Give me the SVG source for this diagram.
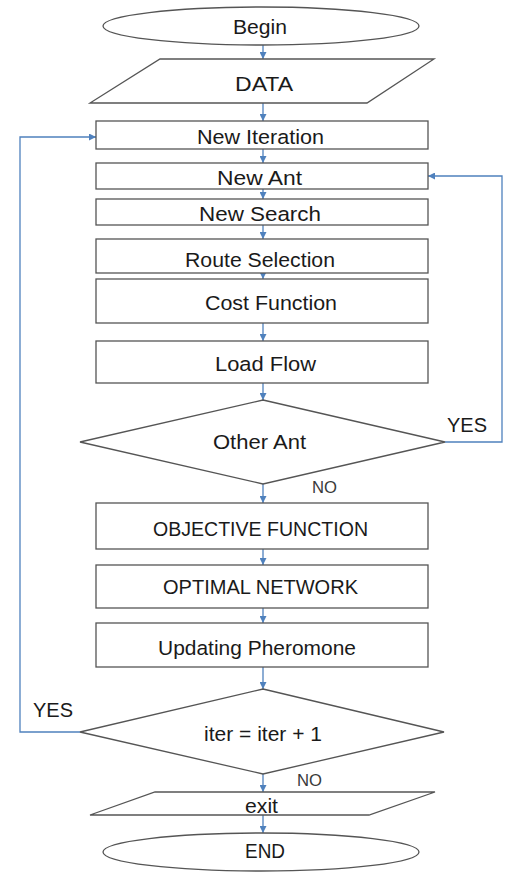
<svg xmlns="http://www.w3.org/2000/svg" width="506" height="873" viewBox="0 0 506 873">
  <style>
    .shape { fill: #ffffff; stroke: #555555; stroke-width: 1.3; }
    .lbl { font-family: "Liberation Sans", Arial, sans-serif; font-size: 20.5px; fill: #1a1a1a; text-anchor: middle; }
    .tag { font-family: "Liberation Sans", Arial, sans-serif; font-size: 20.5px; fill: #1a1a1a; }
    .no { font-family: "Liberation Sans", Arial, sans-serif; font-size: 16px; fill: #3a3a3a; }
    .conn { fill: none; stroke: #4f81bd; stroke-width: 1.3; }
  </style>
  <defs>
    <marker id="arrow" viewBox="0 0 8 8" refX="8" refY="4" markerWidth="7" markerHeight="7" markerUnits="userSpaceOnUse" orient="auto">
      <path d="M0,0 L8,4 L0,8 Z" fill="#4f81bd"/>
    </marker>
  </defs>
  <rect width="506" height="873" fill="#ffffff"/>

  <!-- connectors -->
  <g id="connectors">
    <path class="conn" d="M263,45 V59" marker-end="url(#arrow)"/>
    <path class="conn" d="M263,103 V121" marker-end="url(#arrow)"/>
    <path class="conn" d="M263,149 V163" marker-end="url(#arrow)"/>
    <path class="conn" d="M263,189 V199" marker-end="url(#arrow)"/>
    <path class="conn" d="M263,225 V239" marker-end="url(#arrow)"/>
    <path class="conn" d="M263,269 V279" marker-end="url(#arrow)"/>
    <path class="conn" d="M263,323 V341" marker-end="url(#arrow)"/>
    <path class="conn" d="M263,383 V400" marker-end="url(#arrow)"/>
    <path class="conn" d="M263,484 V503" marker-end="url(#arrow)"/>
    <path class="conn" d="M263,549 V565" marker-end="url(#arrow)"/>
    <path class="conn" d="M263,608 V623" marker-end="url(#arrow)"/>
    <path class="conn" d="M263,667 V689" marker-end="url(#arrow)"/>
    <path class="conn" d="M263,774 V792" marker-end="url(#arrow)"/>
    <path class="conn" d="M263,815 V833" marker-end="url(#arrow)"/>
    <!-- loop back to New Ant -->
    <path class="conn" d="M445,442 H502 V176 H428" marker-end="url(#arrow)"/>
    <!-- loop back to New Iteration -->
    <path class="conn" d="M80,732 H20 V137 H96" marker-end="url(#arrow)"/>
  </g>

  <g id="begin">
    <ellipse class="shape" cx="261" cy="26" rx="158" ry="19"/>
    <text class="lbl" x="260" y="34" textLength="54" lengthAdjust="spacingAndGlyphs">Begin</text>
  </g>
  <g id="data">
    <polygon class="shape" points="160,59 434,59 367,103 90,103"/>
    <text class="lbl" x="264" y="91" textLength="58" lengthAdjust="spacingAndGlyphs">DATA</text>
  </g>
  <g id="new-iteration">
    <rect class="shape" x="96" y="121" width="332" height="28"/>
    <text class="lbl" x="260.5" y="144" textLength="127" lengthAdjust="spacingAndGlyphs">New Iteration</text>
  </g>
  <g id="new-ant">
    <rect class="shape" x="96" y="163" width="332" height="26"/>
    <text class="lbl" x="259.5" y="185" textLength="85" lengthAdjust="spacingAndGlyphs">New Ant</text>
  </g>
  <g id="new-search">
    <rect class="shape" x="96" y="199" width="332" height="26"/>
    <text class="lbl" x="260" y="221" textLength="122" lengthAdjust="spacingAndGlyphs">New Search</text>
  </g>
  <g id="route-selection">
    <rect class="shape" x="96" y="239" width="332" height="34"/>
    <text class="lbl" x="260" y="266.5" textLength="150" lengthAdjust="spacingAndGlyphs">Route Selection</text>
  </g>
  <g id="cost-function">
    <rect class="shape" x="96" y="279" width="332" height="44"/>
    <text class="lbl" x="271" y="310" textLength="132" lengthAdjust="spacingAndGlyphs">Cost Function</text>
  </g>
  <g id="load-flow">
    <rect class="shape" x="96" y="341" width="332" height="42"/>
    <text class="lbl" x="265.5" y="371" textLength="101" lengthAdjust="spacingAndGlyphs">Load Flow</text>
  </g>
  <g id="other-ant">
    <polygon class="shape" points="263,400 445,442 263,484 80,442"/>
    <text class="lbl" x="259.5" y="449" textLength="93" lengthAdjust="spacingAndGlyphs">Other Ant</text>
    <text class="tag" x="447" y="431.5" textLength="40" lengthAdjust="spacingAndGlyphs">YES</text>
    <text class="no" x="312" y="492.5" textLength="25" lengthAdjust="spacingAndGlyphs">NO</text>
  </g>
  <g id="objective-function">
    <rect class="shape" x="96" y="503" width="332" height="46"/>
    <text class="lbl" x="260.5" y="536" textLength="215" lengthAdjust="spacingAndGlyphs">OBJECTIVE FUNCTION</text>
  </g>
  <g id="optimal-network">
    <rect class="shape" x="96" y="565" width="332" height="43"/>
    <text class="lbl" x="260.5" y="594" textLength="195" lengthAdjust="spacingAndGlyphs">OPTIMAL NETWORK</text>
  </g>
  <g id="updating-pheromone">
    <rect class="shape" x="96" y="623" width="332" height="44"/>
    <text class="lbl" x="257" y="655" textLength="198" lengthAdjust="spacingAndGlyphs">Updating Pheromone</text>
  </g>
  <g id="iter-check">
    <polygon class="shape" points="263,689 444,732 263,774 80,732"/>
    <text class="lbl" x="263" y="740.5" textLength="118" lengthAdjust="spacingAndGlyphs">iter = iter + 1</text>
    <text class="tag" x="33" y="716.5" textLength="40" lengthAdjust="spacingAndGlyphs">YES</text>
    <text class="no" x="297" y="786" textLength="25" lengthAdjust="spacingAndGlyphs">NO</text>
  </g>
  <g id="exit">
    <polygon class="shape" points="155,792 435,792 369,815 90,815"/>
    <text class="lbl" x="261.5" y="812.5" textLength="33" lengthAdjust="spacingAndGlyphs">exit</text>
  </g>
  <g id="end">
    <ellipse class="shape" cx="261" cy="852" rx="158" ry="19"/>
    <text class="lbl" x="265" y="858" textLength="40" lengthAdjust="spacingAndGlyphs">END</text>
  </g>
</svg>
